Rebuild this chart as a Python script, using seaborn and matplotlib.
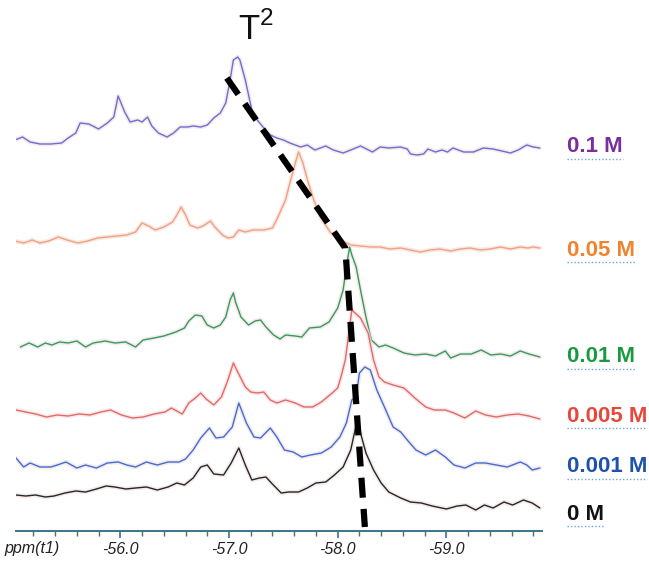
import pandas as pd
import matplotlib.pyplot as plt
import matplotlib.patheffects as pe
from matplotlib.lines import Line2D
import seaborn as sns

# Spectra: chemical shift (ppm) and stacked intensity (a.u.)
ppm_01 = [-55.03, -55.10, -55.17, -55.26, -55.36, -55.46, -55.52, -55.59, -55.63, -55.71,
          -55.80, -55.88, -55.94, -55.98, -56.04, -56.09, -56.16, -56.20, -56.25, -56.29,
          -56.35, -56.43, -56.49, -56.55, -56.62, -56.67, -56.74, -56.80, -56.86, -56.92,
          -56.97, -57.01, -57.04, -57.08, -57.10, -57.15, -57.21, -57.26, -57.32, -57.38,
          -57.44, -57.50, -57.56, -57.66, -57.72, -57.79, -57.89, -57.96, -58.05, -58.12,
          -58.21, -58.32, -58.39, -58.47, -58.58, -58.64, -58.67, -58.73, -58.79, -58.83,
          -58.90, -58.96, -59.01, -59.06, -59.16, -59.25, -59.34, -59.43, -59.51, -59.59,
          -59.66, -59.74, -59.80, -59.86]
int_01 = [391, 394, 389, 387, 387, 388, 393, 398, 408, 407,
          402, 408, 414, 435, 419, 409, 411, 409, 414, 405,
          398, 394, 398, 404, 404, 405, 404, 406, 413, 418,
          428, 451, 471, 474, 471, 451, 421, 411, 403, 396,
          393, 391, 388, 384, 386, 381, 385, 381, 378, 381,
          385, 379, 384, 383, 384, 382, 377, 376, 377, 382,
          379, 381, 379, 383, 379, 379, 383, 382, 380, 378,
          381, 386, 384, 383]

ppm_005 = [-55.03, -55.11, -55.19, -55.26, -55.34, -55.43, -55.51, -55.61, -55.70, -55.79,
           -55.88, -55.97, -56.06, -56.14, -56.20, -56.26, -56.32, -56.40, -56.48, -56.52,
           -56.56, -56.60, -56.64, -56.71, -56.76, -56.83, -56.87, -56.94, -56.99, -57.04,
           -57.09, -57.15, -57.22, -57.32, -57.40, -57.45, -57.52, -57.56, -57.61, -57.64,
           -57.68, -57.73, -57.78, -57.84, -57.93, -58.02, -58.12, -58.21, -58.30, -58.39,
           -58.48, -58.58, -58.67, -58.76, -58.85, -58.94, -59.04, -59.13, -59.22, -59.31,
           -59.40, -59.50, -59.59, -59.68, -59.75, -59.80, -59.86]
int_005 = [290, 288, 291, 288, 290, 294, 291, 288, 290, 293,
           294, 295, 296, 299, 308, 305, 301, 304, 309, 316,
           324, 316, 306, 303, 305, 310, 304, 296, 293, 294,
           301, 299, 301, 301, 303, 314, 331, 348, 368, 379,
           368, 348, 331, 314, 299, 291, 286, 285, 284, 284,
           282, 283, 281, 279, 281, 282, 280, 282, 283, 281,
           282, 284, 282, 284, 283, 284, 283]

ppm_001 = [-55.08, -55.16, -55.24, -55.31, -55.37, -55.44, -55.52, -55.60, -55.68, -55.75,
           -55.86, -55.95, -56.05, -56.14, -56.21, -56.31, -56.40, -56.51, -56.59, -56.63,
           -56.69, -56.75, -56.80, -56.86, -56.92, -56.97, -57.01, -57.04, -57.06, -57.11,
           -57.18, -57.24, -57.29, -57.34, -57.41, -57.47, -57.52, -57.61, -57.67, -57.74,
           -57.84, -57.92, -58.00, -58.05, -58.08, -58.11, -58.13, -58.17, -58.21, -58.26,
           -58.31, -58.38, -58.44, -58.51, -58.61, -58.71, -58.81, -58.90, -58.99, -59.04,
           -59.13, -59.23, -59.32, -59.41, -59.50, -59.59, -59.68, -59.76, -59.86]
int_001 = [184, 188, 184, 188, 186, 189, 188, 190, 184, 188,
           190, 188, 189, 184, 191, 193, 195, 199, 203, 210,
           216, 215, 206, 203, 206, 214, 231, 238, 229, 214,
           206, 210, 211, 204, 196, 192, 196, 195, 194, 203,
           204, 209, 223, 241, 264, 284, 276, 264, 241, 214,
           191, 184, 186, 183, 178, 176, 177, 175, 180, 173,
           177, 177, 181, 176, 177, 175, 180, 177, 174]

ppm_0005 = [-55.04, -55.13, -55.22, -55.32, -55.42, -55.52, -55.62, -55.72, -55.82, -55.91,
            -56.01, -56.11, -56.21, -56.31, -56.41, -56.47, -56.57, -56.63, -56.69, -56.74,
            -56.79, -56.86, -56.93, -56.99, -57.04, -57.08, -57.15, -57.20, -57.26, -57.32,
            -57.38, -57.44, -57.52, -57.61, -57.69, -57.77, -57.85, -57.95, -58.00, -58.03,
            -58.07, -58.13, -58.21, -58.28, -58.33, -58.38, -58.43, -58.51, -58.61, -58.71,
            -58.81, -58.89, -58.99, -59.07, -59.17, -59.27, -59.36, -59.46, -59.56, -59.66,
            -59.76, -59.86]
int_0005 = [121, 119, 117, 114, 116, 115, 117, 116, 119, 121,
            116, 113, 114, 117, 119, 123, 117, 128, 133, 138,
            132, 126, 134, 151, 168, 159, 144, 139, 138, 139,
            131, 128, 131, 128, 124, 124, 129, 138, 143, 154,
            171, 221, 213, 198, 171, 154, 149, 146, 143, 133,
            124, 121, 121, 118, 113, 120, 116, 114, 116, 117,
            115, 112]

ppm_0001 = [-55.04, -55.11, -55.17, -55.26, -55.36, -55.42, -55.50, -55.60, -55.68, -55.78,
            -55.88, -55.98, -56.06, -56.14, -56.24, -56.34, -56.44, -56.54, -56.60, -56.67,
            -56.74, -56.82, -56.88, -56.95, -57.03, -57.09, -57.16, -57.23, -57.29, -57.38,
            -57.44, -57.51, -57.59, -57.67, -57.75, -57.85, -57.94, -58.02, -58.08, -58.13,
            -58.17, -58.20, -58.25, -58.30, -58.36, -58.43, -58.51, -58.58, -58.64, -58.72,
            -58.81, -58.90, -58.99, -59.07, -59.17, -59.27, -59.36, -59.46, -59.56, -59.68,
            -59.74, -59.79, -59.86]
int_0001 = [73, 64, 68, 64, 64, 66, 69, 63, 66, 63,
            68, 69, 66, 64, 69, 66, 69, 69, 72, 81,
            93, 103, 93, 94, 104, 128, 108, 94, 93, 103,
            94, 81, 79, 74, 76, 78, 84, 94, 108, 131,
            134, 158, 164, 161, 141, 124, 104, 99, 91, 81,
            76, 81, 74, 66, 63, 68, 68, 66, 64, 69,
            66, 61, 63]

ppm_0 = [-55.04, -55.13, -55.22, -55.31, -55.39, -55.49, -55.59, -55.68, -55.78, -55.87,
         -55.95, -56.05, -56.14, -56.24, -56.34, -56.44, -56.52, -56.59, -56.67, -56.74,
         -56.80, -56.86, -56.95, -57.02, -57.09, -57.15, -57.21, -57.28, -57.34, -57.39,
         -57.48, -57.55, -57.64, -57.72, -57.80, -57.89, -57.97, -58.05, -58.12, -58.17,
         -58.21, -58.26, -58.33, -58.40, -58.47, -58.58, -58.67, -58.77, -58.87, -59.00,
         -59.10, -59.18, -59.27, -59.35, -59.43, -59.53, -59.61, -59.71, -59.79, -59.86]
int_0 = [36, 35, 36, 34, 35, 38, 40, 39, 42, 45,
         44, 42, 43, 44, 41, 44, 48, 46, 53, 64,
         66, 57, 56, 68, 83, 66, 51, 53, 54, 48,
         38, 39, 39, 43, 48, 49, 56, 64, 81, 106,
         98, 78, 61, 48, 39, 33, 29, 28, 25, 22,
         25, 26, 21, 26, 23, 29, 26, 31, 28, 23]

# T2 peak shift guide
guide_ppm = [-56.98, -58.07, -58.25]
guide_int = [453, 283, 4]

labels = ["0.1 M", "0.05 M", "0.01 M", "0.005 M", "0.001 M", "0 M"]
label_level = [384, 281, 174, 115, 64, 17]
line_colors = ["#6a6fd6", "#f2a27a", "#2f9e62", "#e26a6a", "#3a70d8", "#1e2b2b"]
text_colors = ["#7a2f9e", "#f0832e", "#1a9a40", "#e8473c", "#1d52ad", "#111111"]

ppm_sets = [ppm_01, ppm_005, ppm_001, ppm_0005, ppm_0001, ppm_0]
int_sets = [int_01, int_005, int_001, int_0005, int_0001, int_0]

frames = []
for lab, x, y in zip(labels, ppm_sets, int_sets):
    frames.append(pd.DataFrame({"ppm": x, "intensity": y, "conc": lab}))
df = pd.concat(frames, ignore_index=True)

sns.set_theme(style="white")
plt.rcParams['font.family'] = ['Liberation Sans', 'DejaVu Sans']
plt.rcParams['mathtext.fontset'] = 'custom'
plt.rcParams['mathtext.rm'] = 'Liberation Sans'

fig = plt.figure(figsize=(6.49, 5.62), dpi=100)
ax = fig.add_axes([16 / 649, 31 / 562, 526 / 649, 531 / 562])

halo = [pe.withStroke(linewidth=3.2, foreground="#f6dada", alpha=0.6)]
sns.lineplot(data=df, x="ppm", y="intensity", hue="conc", hue_order=labels,
             palette=dict(zip(labels, line_colors)), estimator=None, sort=False,
             linewidth=1.0, legend=False, ax=ax, path_effects=halo)

ax.plot(guide_ppm, guide_int, color="black", linewidth=4.5,
        linestyle=(0, (3.2, 1.8)), solid_capstyle="butt", zorder=5)

ax.set_xlim(-55.04, -59.88)
ax.set_ylim(0, 531)
ax.set_xticks([-56.0, -57.0, -58.0, -59.0])
ax.set_xticklabels(["-56.0", "-57.0", "-58.0", "-59.0"], fontstyle="italic",
                   fontsize=11.5, color="#222222")
ax.set_xticks([-55.2 - 0.2 * i for i in range(24)], minor=True)
ax.tick_params(axis="x", which="major", direction="out", length=5, width=1.2,
               color="#3b7486", pad=3, bottom=True)
ax.tick_params(axis="x", which="minor", direction="out", length=3.5, width=1.0,
               color="#3b7486", bottom=True)
ax.set_yticks([])
ax.set_xlabel("")
ax.set_ylabel("")
for side in ["top", "right", "left"]:
    ax.spines[side].set_visible(False)
ax.spines["bottom"].set_color("#3b7486")
ax.spines["bottom"].set_linewidth(1.4)
ax.patch.set_alpha(0)

fig.text(4 / 649, 1 - 549 / 562, "ppm(t1)", fontstyle="italic", fontsize=11.5,
         color="#222222", ha="left", va="center")
fig.text(256 / 649, 1 - 29 / 562, r"T$^{2}$", fontsize=25, ha="center", va="center",
         color="#111111")

label_texts = []
for lab, lvl, col in zip(labels, label_level, text_colors):
    t = ax.text(1 + 25 / 526, lvl, lab, transform=ax.get_yaxis_transform(),
                fontsize=16, fontweight="bold", color=col, ha="left", va="center",
                clip_on=False)
    label_texts.append(t)

# dotted underline beneath each concentration label
fig.canvas.draw()
renderer = fig.canvas.get_renderer()
for t in label_texts:
    bb = t.get_window_extent(renderer)
    yline = (bb.y0 - 1) / fig.bbox.height
    fig.add_artist(Line2D([bb.x0 / fig.bbox.width, bb.x1 / fig.bbox.width], [yline, yline],
                          color="#6fa6d8", linewidth=1.0, linestyle=(0, (1, 1.5))))

fig.savefig("out.png", dpi=100)
